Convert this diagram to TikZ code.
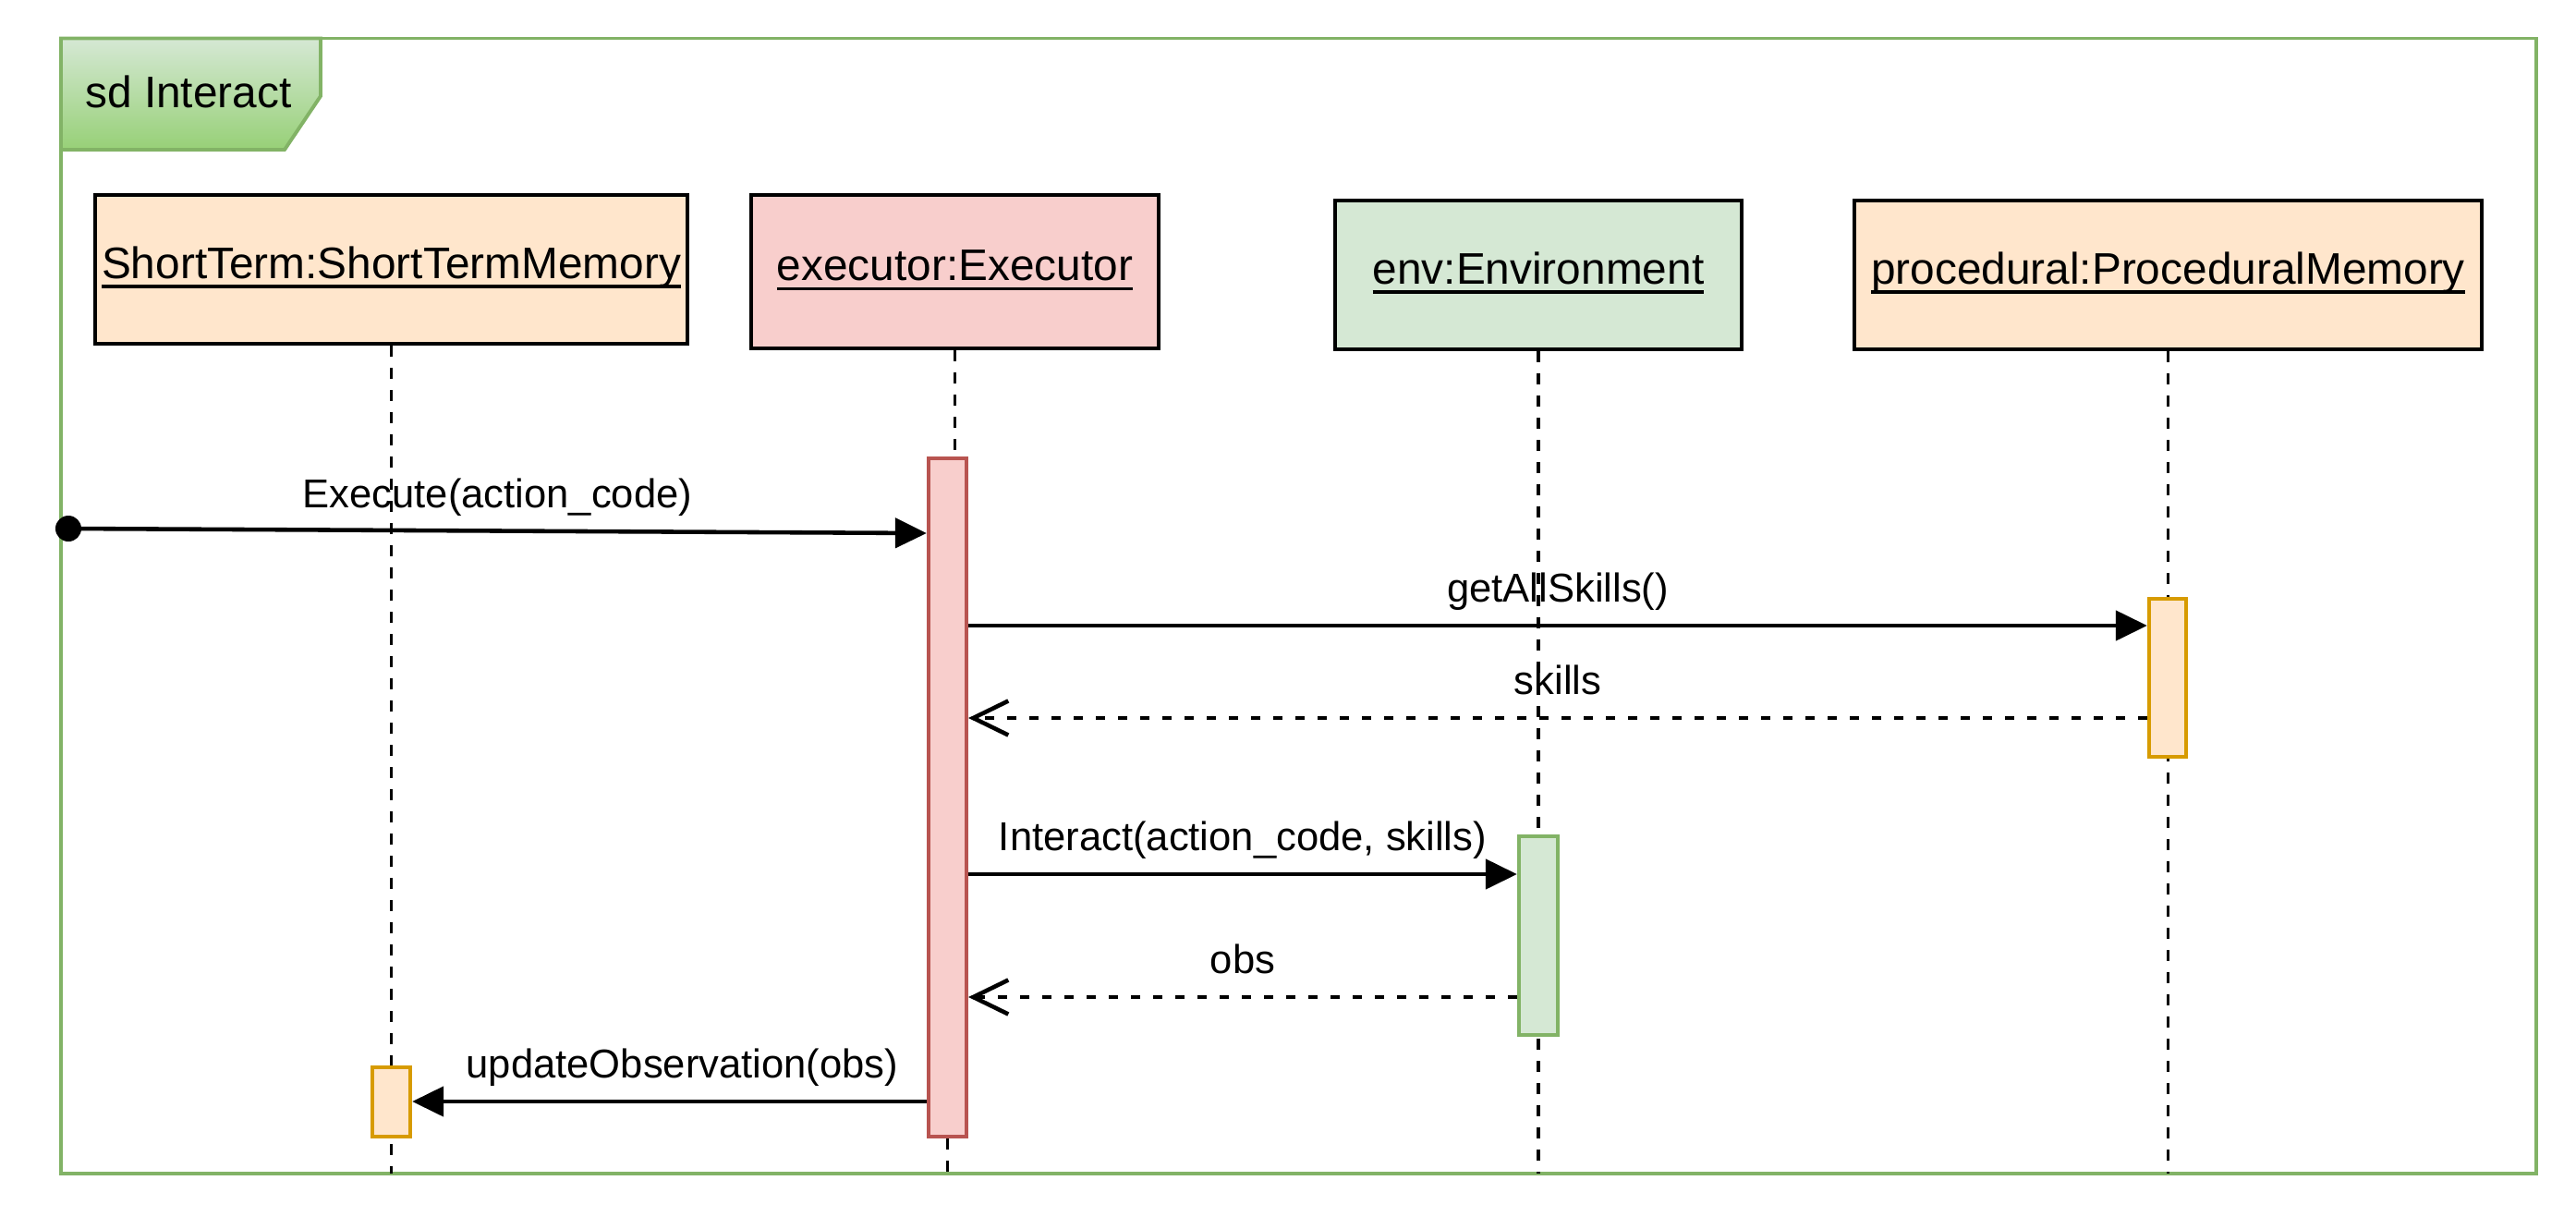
\documentclass[tikz,border=0pt]{standalone}
\usepackage{fontspec}
\setmainfont{Liberation Sans}
\usetikzlibrary{arrows.meta,positioning}
\usepackage{xcolor}
\definecolor{lgreen}{HTML}{D5E8D4}
\definecolor{dgreen}{HTML}{82B366}
\definecolor{tabgreen}{HTML}{97D077}
\definecolor{lred}{HTML}{F8CECC}
\definecolor{dred}{HTML}{B85450}
\definecolor{lorange}{HTML}{FFE6CC}
\definecolor{dorange}{HTML}{D79B00}
\newcommand{\Oname}[1]{\setbox0\hbox{#1}\rlap{\rule[-0.22em]{\wd0}{0.07em}}\box0}
\tikzset{
  frm/.style={draw=dgreen,line width=1.1pt},
  life/.style={rectangle,draw=black,line width=1.4pt,inner sep=0pt,
    font=\fontsize{13.6}{16}\selectfont,text height=0.75em,text depth=0.2em},
  act/.style={rectangle,line width=1.2pt,inner sep=0pt,minimum width=0.41cm},
  lline/.style={line width=1pt,dash pattern=on 0.12cm off 0.12cm},
  msg/.style={-{Triangle[length=0.34cm,width=0.32cm]},line width=1.3pt},
  ret/.style={-{Straight Barb[length=0.38cm,width=0.37cm]},line width=1.3pt,
    dash pattern=on 0.10cm off 0.14cm},
  lbl/.style={above,inner sep=0pt,text depth=0pt,yshift=0.23cm,
    font=\fontsize{12.4}{15}\selectfont}
}
\begin{document}
\begin{tikzpicture}
\useasboundingbox (0,0) rectangle (27.88,-13.16);
% frame
\draw[frm] (0.66,-0.415) rectangle (27.45,-12.70);
\draw[frm,top color=lgreen,bottom color=tabgreen] (0.66,-0.415) -- (3.47,-0.415) -- (3.47,-1.04) -- (3.08,-1.62) -- (0.66,-1.62) -- cycle;
\node (title) [font=\fontsize{13.6}{16}\selectfont,text height=0.7em,text depth=0.2em,inner sep=0pt] at (2.04,-1.08) {sd Interact};
\coordinate (fbot) at (0,-12.70);
%
\node (st) [life,fill=lorange,minimum width=6.41cm,minimum height=1.61cm] at (4.235,-2.915) {\Oname{ShortTerm:ShortTermMemory}};
\node (exec) [life,fill=lred,minimum width=4.41cm,minimum height=1.66cm] at (10.335,-2.94) {\Oname{executor:Executor}};
\node (env) [life,fill=lgreen,minimum width=4.40cm,minimum height=1.61cm] at (16.65,-2.975) {\Oname{env:Environment}};
\node (proc) [life,fill=lorange,minimum width=6.79cm,minimum height=1.61cm] at (23.465,-2.975) {\Oname{procedural:ProceduralMemory}};
%
\node (xact) [act,fill=lred,draw=dred,minimum height=7.34cm] at (10.255,-8.63) {};
%
\draw[lline] (st.south) -- (st.south |- fbot);
\draw[lline] (exec.south) -- (exec.south |- xact.north);
\draw[lline] (xact.south) -- (xact.south |- fbot);
\draw[lline] (env.south) -- (env.south |- fbot);
\draw[lline] (proc.south) -- (proc.south |- fbot);
%
\node (pact) [act,fill=lorange,draw=dorange,minimum width=0.40cm,minimum height=1.71cm] at (23.46,-7.335) {};
\node (eact) [act,fill=lgreen,draw=dgreen,minimum width=0.42cm,minimum height=2.15cm] at (16.65,-10.125) {};
\node (sact) [act,fill=lorange,draw=dorange,minimum height=0.75cm] at (4.235,-11.925) {};
%
\coordinate (start) at (0.74,-5.72);
\coordinate (y1) at (0,-5.77);
\coordinate (y2) at (0,-6.77);
\coordinate (y3) at (0,-7.77);
\coordinate (y4) at (0,-9.46);
\coordinate (y5) at (0,-10.79);
\coordinate (y6) at (0,-11.92);
%
\fill (start) circle (0.14);
\draw[msg] (start) -- node[lbl] {Execute(action\_code)} (xact.west |- y1);
\draw[msg] (xact.east |- y2) -- node[lbl] {getAllSkills()} (pact.west |- y2);
\draw[ret] (pact.west |- y3) -- node[lbl] {skills} (xact.east |- y3);
\draw[msg] (xact.east |- y4) -- node[lbl] {Interact(action\_code, skills)} (eact.west |- y4);
\draw[ret] (eact.west |- y5) -- node[lbl] {obs} (xact.east |- y5);
\draw[msg] (xact.west |- y6) -- node[lbl,xshift=0.14cm] {updateObservation(obs)} (sact.east |- y6);
\end{tikzpicture}
\end{document}
